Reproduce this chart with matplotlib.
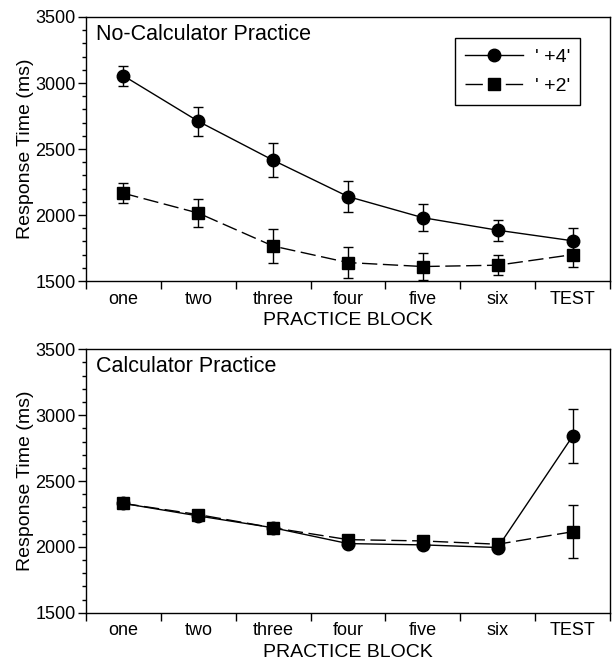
import matplotlib
matplotlib.use("Agg")
import matplotlib.pyplot as plt
from matplotlib.lines import Line2D
from matplotlib.ticker import MultipleLocator, FixedLocator, NullFormatter

plt.rcParams['font.family'] = ['Liberation Sans', 'DejaVu Sans']

blocks = ["one", "two", "three", "four", "five", "six", "TEST"]
series_labels = ["' +4'", "' +2'"]

# No-Calculator Practice
nc_plus4 = [3055, 2710, 2415, 2140, 1980, 1885, 1805]
nc_plus4_err = [75, 108, 130, 120, 100, 80, 95]
nc_plus2 = [2165, 2015, 1765, 1640, 1610, 1620, 1700]
nc_plus2_err = [75, 105, 132, 120, 100, 76, 90]

# Calculator Practice
c_plus4 = [2330, 2235, 2145, 2025, 2015, 1995, 2840]
c_plus4_err = [20, 20, 20, 20, 30, 15, 205]
c_plus2 = [2330, 2245, 2145, 2055, 2045, 2020, 2115]
c_plus2_err = [20, 20, 20, 20, 30, 15, 200]

titles = ["No-Calculator Practice", "Calculator Practice"]

DASH = (0, (11, 4))

fig = plt.figure(figsize=(6.14, 6.66), dpi=100)
ax1 = fig.add_axes([0.140, 0.578, 0.8535, 0.3965])
ax2 = fig.add_axes([0.140, 0.080, 0.8535, 0.3955])

x = list(range(1, len(blocks) + 1))

def draw(ax, p4, p4e, p2, p2e, title, legend):
    ax.errorbar(x, p2, yerr=p2e, color='black', lw=1.0, ls=DASH,
                marker='s', ms=8.5, capsize=3.5, elinewidth=1.0,
                capthick=1.0)
    ax.errorbar(x, p4, yerr=p4e, color='black', lw=1.0, ls='-',
                marker='o', ms=9, capsize=3.5, elinewidth=1.0,
                capthick=1.0)
    ax.set_xlim(0.5, len(blocks) + 0.5)
    ax.set_ylim(1500, 3500)
    ax.yaxis.set_major_locator(MultipleLocator(500))
    ax.yaxis.set_minor_locator(MultipleLocator(100))
    ax.xaxis.set_major_locator(FixedLocator([i + 0.5 for i in range(len(blocks) + 1)]))
    ax.xaxis.set_major_formatter(NullFormatter())
    ax.xaxis.set_minor_locator(FixedLocator(x))
    ax.set_xticklabels(blocks, minor=True)
    ax.tick_params(axis='x', which='major', direction='out', length=6, width=1)
    ax.tick_params(axis='x', which='minor', length=0, pad=7, labelsize=13)
    ax.tick_params(axis='y', which='major', direction='out', length=6, width=1,
                   pad=1.5, labelsize=13)
    ax.tick_params(axis='y', which='minor', direction='out', length=3, width=1)
    for s in ax.spines.values():
        s.set_linewidth(1.0)
    ax.set_xlabel("PRACTICE BLOCK", fontsize=14, labelpad=3)
    ax.set_ylabel("Response Time (ms)", fontsize=14, labelpad=1)
    ax.text(0.02, 0.975, title, transform=ax.transAxes, ha='left', va='top',
            fontsize=15.5)
    if legend:
        handles = [Line2D([], [], color='black', lw=1.0, ls='-', marker='o', ms=9),
                   Line2D([], [], color='black', lw=1.0, ls=(0, (12.5, 16.5)),
                          marker='s', ms=8.5)]
        leg = ax.legend(handles, series_labels, loc='upper right',
                        bbox_to_anchor=(0.943, 0.919), fontsize=14,
                        handlelength=3.0, handletextpad=0.6, labelspacing=0.6,
                        borderpad=0.5, fancybox=False, framealpha=1,
                        edgecolor='black', borderaxespad=0)
        leg.get_frame().set_linewidth(1.0)

draw(ax1, nc_plus4, nc_plus4_err, nc_plus2, nc_plus2_err, titles[0], True)
draw(ax2, c_plus4, c_plus4_err, c_plus2, c_plus2_err, titles[1], False)

fig.savefig("out.png", dpi=100)
